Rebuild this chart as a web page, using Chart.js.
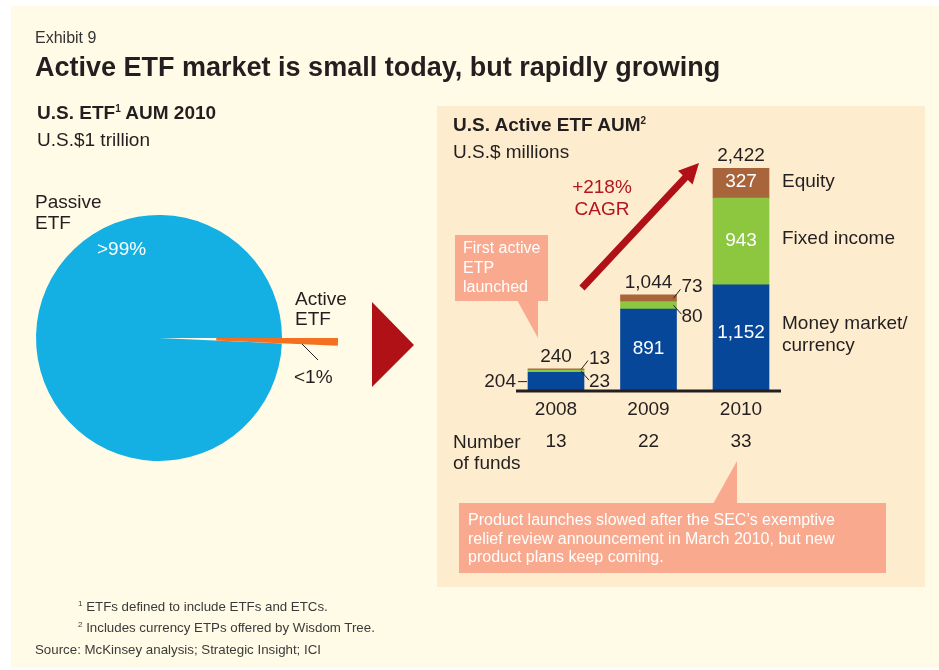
<!DOCTYPE html>
<html>
<head>
<meta charset="utf-8">
<script src="https://cdn.jsdelivr.net/npm/chart.js@4.4.1/dist/chart.umd.min.js"></script>
<style>
  body { margin: 0; width: 939px; height: 670px; background: #fff; position: relative; overflow: hidden;
         font-family: "Liberation Sans", Arial, Helvetica, sans-serif; color: #231f20; }
  .abs { position: absolute; white-space: nowrap; }
  #panel { position: absolute; left: 11px; top: 6px; width: 928px; height: 662px; background: #fffbe6; }
  #panel2 { position: absolute; left: 437px; top: 106px; width: 488px; height: 481px; background: #feecce; }
  .box { position: absolute; background: #f9a98e; }
  .t19 { font-size: 19px; line-height: 22px; }
  .wht { color: #fff; }
  sup { font-size: 10px; line-height: 0; vertical-align: 7px; }
  .foot { font-size: 13.3px; line-height: 16px; color: #3a3a3a; }
  canvas { position: absolute; }
</style>
</head>
<body>
<div id="panel"></div>
<div id="panel2"></div>

<div class="box" style="left:455px;top:235px;width:93px;height:66px;"></div>
<div class="box" style="left:459px;top:503px;width:427px;height:70px;"></div>

<canvas id="pie" width="420" height="356" style="left:0;top:160px;"></canvas>
<canvas id="pieOut" width="420" height="356" style="left:0;top:160px;"></canvas>
<canvas id="bars" width="488" height="370" style="left:437px;top:106px;"></canvas>

<svg width="939" height="670" style="position:absolute;left:0;top:0;pointer-events:none;">
  <polygon points="372,302 414,345 372,387" fill="#b01117"/>
  <polygon points="584.6,290.4 687.9,180.0 692.6,184.5 699,163 678,170.7 682.7,175.2 579.4,285.6" fill="#b01117"/>
  <polygon points="517,300 538,300 538,338" fill="#f9a98e"/>
  <polygon points="713,504 737,504 737,461" fill="#f9a98e"/>
  <line x1="302" y1="344" x2="318" y2="360" stroke="#231f20" stroke-width="1"/>
</svg>

<div class="abs" style="left:35px;top:29px;font-size:16px;line-height:18px;color:#333;">Exhibit 9</div>
<div class="abs" style="left:35px;top:52px;font-size:27px;line-height:30px;font-weight:bold;">Active ETF market is small today, but rapidly growing</div>

<div class="abs t19" style="left:37px;top:102px;font-weight:bold;">U.S. ETF<sup>1</sup> AUM 2010</div>
<div class="abs t19" style="left:37px;top:129px;">U.S.$1 trillion</div>
<div class="abs t19" style="left:35px;top:191px;line-height:21px;">Passive<br>ETF</div>
<div class="abs wht" style="left:97px;top:238px;font-size:19px;line-height:22px;">&gt;99%</div>
<div class="abs t19" style="left:295px;top:289px;line-height:20px;">Active<br>ETF</div>
<div class="abs t19" style="left:294px;top:366px;">&lt;1%</div>

<div class="abs t19" style="left:453px;top:114px;font-weight:bold;">U.S. Active ETF AUM<sup>2</sup></div>
<div class="abs t19" style="left:453px;top:141px;">U.S.$ millions</div>
<div class="abs t19" style="left:562px;top:176px;width:80px;text-align:center;color:#b2151d;">+218%<br>CAGR</div>

<div class="abs t19" style="left:782px;top:170px;">Equity</div>
<div class="abs t19" style="left:782px;top:227px;">Fixed income</div>
<div class="abs t19" style="left:782px;top:312px;">Money market/<br>currency</div>

<div class="abs t19" style="left:453px;top:431px;line-height:21px;">Number<br>of funds</div>

<div class="abs wht" style="left:463px;top:238px;font-size:16px;line-height:19.5px;">First active<br>ETP<br>launched</div>
<div class="abs wht" style="left:468px;top:511px;font-size:16px;line-height:18.5px;">Product launches slowed after the SEC’s exemptive<br>relief review announcement in March 2010, but new<br>product plans keep coming.</div>

<div class="abs foot" style="left:78px;top:599px;"><sup style="font-size:8px;vertical-align:5px;">1</sup> ETFs defined to include ETFs and ETCs.</div>
<div class="abs foot" style="left:78px;top:620px;"><sup style="font-size:8px;vertical-align:5px;">2</sup> Includes currency ETPs offered by Wisdom Tree.</div>
<div class="abs foot" style="left:35px;top:642px;">Source: McKinsey analysis; Strategic Insight; ICI</div>

<script>
// U.S. ETF AUM 2010 split (%)
const pieLabels = ['Active ETF', 'Passive ETF'];
const pieValues = [0.7, 99.3];

// U.S. Active ETF AUM, U.S.$ millions
const years = ['2008', '2009', '2010'];
const moneyMarket = [204, 891, 1152];
const fixedIncome = [23, 80, 943];
const equity = [13, 73, 327];
const numFunds = [13, 22, 33];

const dark = '#231f20';
const font19 = '19px "Liberation Sans", Arial, sans-serif';
const none = 'rgba(0,0,0,0)';

function pieChart(id, colors, radius, cutout) {
  return new Chart(document.getElementById(id), {
    type: 'pie',
    data: {
      labels: pieLabels,
      datasets: [{
        data: pieValues,
        backgroundColor: colors,
        borderWidth: 0,
        radius: radius,
        cutout: cutout,
        rotation: 90,
        clip: false
      }]
    },
    options: {
      responsive: false,
      animation: false,
      events: [],
      layout: { padding: { left: 36, right: 138, top: 55, bottom: 55 } },
      plugins: { legend: { display: false }, tooltip: { enabled: false } }
    }
  });
}
// main pie, active slice left empty; then the pulled-out active slice on top
pieChart('pie', [none, '#15b0e3'], 123, 0);
pieChart('pieOut', ['#f37021', none], 179, '32%');

const series = [moneyMarket, fixedIncome, equity];
const totals = years.map((_, i) => series.reduce((s, a) => s + a[i], 0));

// labels, leader lines, baseline, years and fund counts
const barLabels = {
  id: 'barLabels',
  afterDatasetsDraw(chart) {
    const ctx = chart.ctx;
    const yScale = chart.scales.y;
    const metas = series.map((_, d) => chart.getDatasetMeta(d));
    const y0 = yScale.getPixelForValue(0);
    ctx.save();
    ctx.font = font19;
    ctx.textBaseline = 'middle';
    ctx.fillStyle = dark;
    ctx.strokeStyle = dark;
    ctx.lineWidth = 1;

    const first = metas[0].data[0];
    const last = metas[0].data[years.length - 1];
    const x1 = first.x - first.width / 2 - 12;
    const x2 = last.x + last.width / 2 + 12;
    ctx.fillRect(x1, y0 - 1.5, x2 - x1, 3);

    years.forEach((yr, i) => {
      const cx = metas[0].data[i].x;
      let top = y0;
      metas.forEach((m, d) => {
        const el = m.data[i];
        const val = series[d][i];
        const h = el.base - el.y;
        const left = el.x - el.width / 2;
        const right = el.x + el.width / 2;
        const mid = (el.y + el.base) / 2;
        top = Math.min(top, el.y);
        const txt = val.toLocaleString('en-US');
        if (h >= 20) {
          ctx.fillStyle = '#fff';
          ctx.textAlign = 'center';
          ctx.fillText(txt, el.x, mid - (h > 100 ? 5 : 1));
          ctx.fillStyle = dark;
        } else if (d === 0) {
          ctx.beginPath();
          ctx.moveTo(left - 10, mid); ctx.lineTo(left - 1, mid); ctx.stroke();
          ctx.textAlign = 'right';
          ctx.fillText(txt, left - 12, mid);
        } else if (d === 1) {
          ctx.beginPath();
          ctx.moveTo(right - 3, mid); ctx.lineTo(right + 5, mid + 9); ctx.stroke();
          ctx.textAlign = 'left';
          ctx.fillText(txt, right + 5, mid + 11);
        } else {
          ctx.beginPath();
          ctx.moveTo(right - 3, mid); ctx.lineTo(right + 4, mid - 9); ctx.stroke();
          ctx.textAlign = 'left';
          ctx.fillText(txt, right + 5, mid - 11);
        }
      });
      ctx.textAlign = 'center';
      ctx.fillText(totals[i].toLocaleString('en-US'), cx, top - 12);
      ctx.fillText(yr, cx, y0 + 19);
      ctx.fillText(String(numFunds[i]), cx, y0 + 51);
    });
    ctx.restore();
  }
};

new Chart(document.getElementById('bars'), {
  type: 'bar',
  data: {
    labels: years,
    datasets: [
      { label: 'Money market/currency', data: moneyMarket, backgroundColor: '#06479a' },
      { label: 'Fixed income', data: fixedIncome, backgroundColor: '#8dc63f' },
      { label: 'Equity', data: equity, backgroundColor: '#a8643a' }
    ]
  },
  options: {
    responsive: false,
    animation: false,
    events: [],
    datasets: { bar: { barThickness: 56, borderWidth: 0 } },
    layout: { padding: { left: 72.75, right: 137.75, top: 62, bottom: 85 } },
    scales: {
      x: { display: false, stacked: true },
      y: { display: false, stacked: true, min: 0, max: Math.max(...totals) }
    },
    plugins: { legend: { display: false }, tooltip: { enabled: false } }
  },
  plugins: [barLabels]
});
</script>
</body>
</html>
